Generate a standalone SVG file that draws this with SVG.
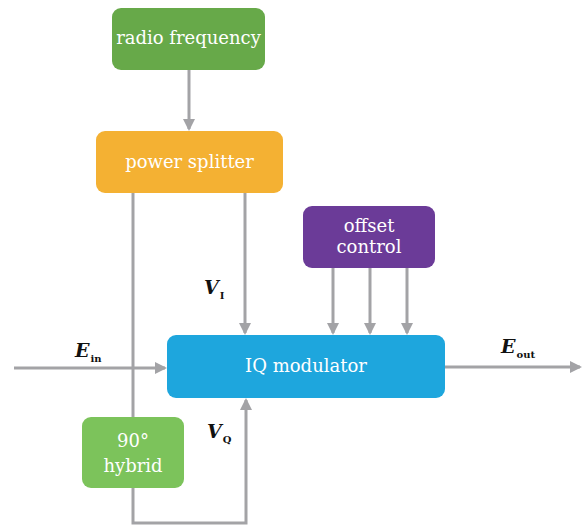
<svg xmlns="http://www.w3.org/2000/svg" width="583" height="527" viewBox="0 0 583 527">
<style>
.t{font-family:"DejaVu Serif","Liberation Serif",serif;font-size:18px;fill:#fff;text-anchor:middle}
.lbl{font-family:"DejaVu Serif","Liberation Serif",serif;font-size:19px;font-weight:bold;font-style:italic;fill:#111}
.sub{font-size:10px;font-style:normal;font-weight:bold}
.ln{fill:none;stroke:#a3a3a6;stroke-width:3}
</style>
<defs>
<marker id="ah" markerWidth="12" markerHeight="12" refX="10" refY="6" orient="auto" markerUnits="userSpaceOnUse">
<path d="M0,0 L12,6 L0,12 Z" fill="#a3a3a6"/>
</marker>
</defs>
<rect width="583" height="527" fill="#fff"/>
<g id="connectors">
<line class="ln" x1="189" y1="70" x2="189" y2="129" marker-end="url(#ah)"/>
<line class="ln" x1="245" y1="193" x2="245" y2="333" marker-end="url(#ah)"/>
<line class="ln" x1="133" y1="193" x2="133" y2="417"/>
<line class="ln" x1="333" y1="268" x2="333" y2="333" marker-end="url(#ah)"/>
<line class="ln" x1="370" y1="268" x2="370" y2="333" marker-end="url(#ah)"/>
<line class="ln" x1="407" y1="268" x2="407" y2="333" marker-end="url(#ah)"/>
<line class="ln" x1="14" y1="368" x2="165" y2="368" marker-end="url(#ah)"/>
<line class="ln" x1="445" y1="367" x2="580" y2="367" marker-end="url(#ah)"/>
<polyline class="ln" points="133,488 133,523 246,523 246,400" marker-end="url(#ah)"/>
</g>
<g id="radio-frequency">
<rect x="112" y="8" width="153" height="62" rx="9" fill="#67a949"/>
<text class="t" x="188.5" y="44">radio frequency</text>
</g>
<g id="power-splitter">
<rect x="96" y="131" width="187" height="62" rx="9" fill="#f4b133"/>
<text class="t" x="189.5" y="168">power splitter</text>
</g>
<g id="offset-control">
<rect x="303" y="206" width="132" height="62" rx="9" fill="#6b3b98"/>
<text class="t" x="369" y="232">offset</text>
<text class="t" x="369" y="253">control</text>
</g>
<g id="iq-modulator">
<rect x="167" y="335" width="278" height="63" rx="9" fill="#1ea6dd"/>
<text class="t" x="306" y="372">IQ modulator</text>
</g>
<g id="hybrid">
<rect x="82" y="417" width="102" height="71" rx="9" fill="#7cc35b"/>
<text class="t" x="133" y="447">90°</text>
<text class="t" x="133" y="472">hybrid</text>
</g>
<g id="labels">
<text class="lbl" x="204" y="294">V<tspan class="sub" dx="1" dy="5">I</tspan></text>
<text class="lbl" x="207" y="438">V<tspan class="sub" dx="1" dy="5">Q</tspan></text>
<text class="lbl" x="75" y="357">E<tspan class="sub" dx="1" dy="5">in</tspan></text>
<text class="lbl" x="501" y="353">E<tspan class="sub" dx="1" dy="5">out</tspan></text>
</g>
</svg>
